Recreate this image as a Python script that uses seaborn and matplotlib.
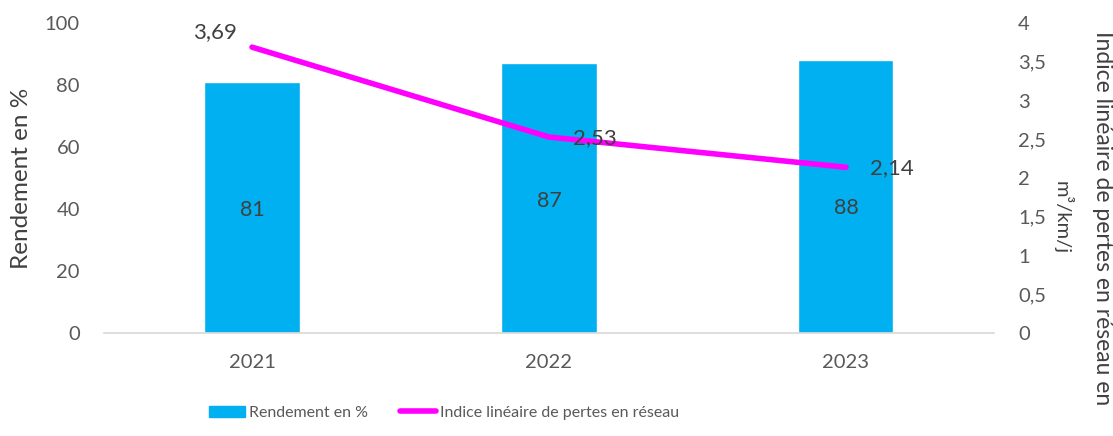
import numpy as np
import pandas as pd
import matplotlib
matplotlib.use("Agg")
import matplotlib.pyplot as plt
import seaborn as sns
from matplotlib.patches import Patch
from matplotlib.lines import Line2D

# données
annees = ["2021", "2022", "2023"]
rendement = [81, 87, 88]
indice_pertes = [3.69, 2.53, 2.14]

BLEU = "#00B0F0"
MAGENTA = "#FF00FF"
GRIS = "#595959"
TEXTE = "#404040"

sns.set_theme(style="white")
plt.rcParams['font.family'] = ['Lato', 'DejaVu Sans']

fig = plt.figure(figsize=(11.13, 4.36), dpi=100)
ax = fig.add_axes([0.093, 0.236, 0.8005, 0.711])

df = pd.DataFrame({"annee": annees, "rendement": rendement})
sns.barplot(data=df, x="annee", y="rendement", color=BLEU, width=0.32,
            saturation=1, ax=ax)
ax.set_ylim(0, 100)
ax.set_xlim(-0.5, 2.5)
ax.set_yticks(range(0, 101, 20))
ax.set_xlabel("")
ax.set_ylabel("Rendement en %", fontsize=17.5, color=TEXTE)
ax.yaxis.set_label_coords(-0.080, 0.5)
ax.tick_params(axis="both", length=0, labelsize=14.5, labelcolor=GRIS)
ax.tick_params(axis="x", pad=15)
ax.tick_params(axis="y", pad=17)
for s in ["top", "right", "left"]:
    ax.spines[s].set_visible(False)
ax.spines["bottom"].set_color("#D9D9D9")

# étiquettes des barres (position relative dans la barre)
pos_etiq = [0.49, 0.49, 0.46]
for i, v in enumerate(rendement):
    ax.text(i, v * pos_etiq[i], str(v), ha="center", va="center",
            fontsize=15.5, color=TEXTE)

ax2 = ax.twinx()
sns.lineplot(x=np.arange(len(annees)), y=indice_pertes, color=MAGENTA,
             linewidth=4, ax=ax2, solid_capstyle="round")
ax2.set_ylim(0, 4)
ticks_d = np.arange(0, 4.01, 0.5)
ax2.set_yticks(ticks_d)
ax2.set_yticklabels([f"{t:g}".replace(".", ",") for t in ticks_d])
ax2.tick_params(axis="y", length=0, labelsize=14.5, labelcolor=GRIS, pad=17)
for s in ["top", "right", "left", "bottom"]:
    ax2.spines[s].set_visible(False)

decal = [(-0.125, 0.19), (0.155, -0.02), (0.155, -0.01)]
for i, v in enumerate(indice_pertes):
    dx, dy = decal[i]
    ax2.text(i + dx, v + dy, f"{v:.2f}".replace(".", ","), ha="center",
             va="center", fontsize=16, color=TEXTE)

fig.text(0.991, 0.93, "Indice linéaire de pertes en réseau en", rotation=270,
         ha="center", va="top", fontsize=16.5, color=TEXTE)
fig.text(0.955, 0.50, "m³/km/j", rotation=270, ha="center", va="center",
         fontsize=14.5, color=TEXTE)

handles = [Patch(facecolor=BLEU, edgecolor=BLEU),
           Line2D([0], [0], color=MAGENTA, linewidth=4)]
fig.legend(handles, ["Rendement en %", "Indice linéaire de pertes en réseau"],
           loc="center", bbox_to_anchor=(0.399, 0.053), ncol=2, frameon=False,
           fontsize=11.5, labelcolor=GRIS, handlelength=2.25,
           handletextpad=0.25, columnspacing=2.0)

fig.savefig("out.png", dpi=100)
